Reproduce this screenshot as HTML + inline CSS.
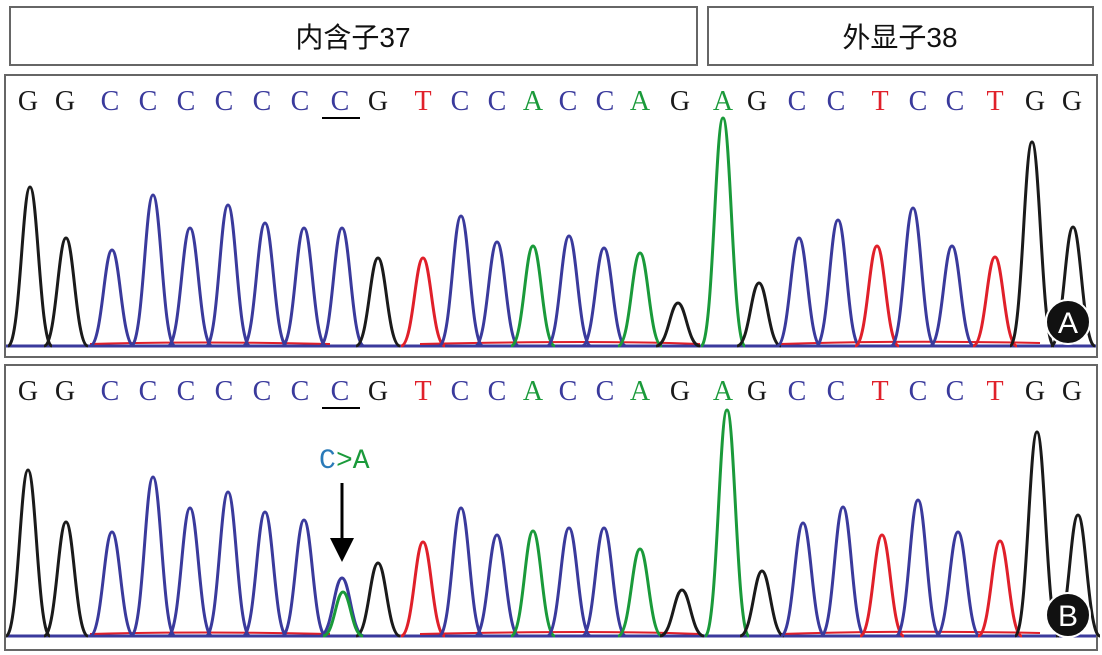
<!DOCTYPE html>
<html><head><meta charset="utf-8">
<style>
html,body{margin:0;padding:0;background:#fff;}
svg{display:block;}
</style></head>
<body>
<svg id="s" width="1102" height="655" viewBox="0 0 1102 655" xmlns="http://www.w3.org/2000/svg">
<rect x="0" y="0" width="1102" height="655" fill="#fff"/>
<rect x="10" y="7" width="687" height="58" fill="#fff" stroke="#666" stroke-width="2"/>
<rect x="708" y="7" width="385" height="58" fill="#fff" stroke="#666" stroke-width="2"/>
<text x="353" y="47" font-family="Liberation Sans, Noto Sans CJK SC, sans-serif" font-size="28" text-anchor="middle" fill="#111">内含子37</text>
<text x="900" y="47" font-family="Liberation Sans, Noto Sans CJK SC, sans-serif" font-size="28" text-anchor="middle" fill="#111">外显子38</text>
<rect x="5" y="75" width="1092" height="282" fill="#fff" stroke="#666" stroke-width="2"/>
<rect x="5" y="365" width="1092" height="285" fill="#fff" stroke="#666" stroke-width="2"/>
<g id="g"></g>
<line x1="322" y1="118" x2="360" y2="118" stroke="#000" stroke-width="2"/>
<line x1="322" y1="408" x2="360" y2="408" stroke="#000" stroke-width="2"/>
<text x="319" y="468" font-family="Liberation Mono, monospace" font-size="28" fill="#2a7ab8">C</text>
<text x="336" y="468" font-family="Liberation Mono, monospace" font-size="28" fill="#1a9a3a">&gt;A</text>
<line x1="342" y1="483" x2="342" y2="540" stroke="#000" stroke-width="3"/>
<polygon points="330,538 354,538 342,562" fill="#000"/>
<circle cx="1068" cy="322" r="22" fill="#111" stroke="#fff" stroke-width="2"/>
<text x="1068" y="333" font-family="Liberation Sans, sans-serif" font-size="30" text-anchor="middle" fill="#fff">A</text>
<circle cx="1068" cy="615" r="22" fill="#111" stroke="#fff" stroke-width="2"/>
<text x="1068" y="626" font-family="Liberation Sans, sans-serif" font-size="30" text-anchor="middle" fill="#fff">B</text>
</svg>
<script>
var col={G:"#1a1a1a",C:"#3a3a9c",T:"#e0202a",A:"#1a9a3a"};
var seq="GGCCCCCCCGTCCACCAGAGCCTCCTGG";
var lx=[28,65,110,148,186,224,262,300,340,378,423,460,497,533,568,605,640,680,723,757,797,836,880,918,955,995,1035,1072];
var pa=[[30,187],[66,238],[112,250],[153,195],[190,228],[228,205],[265,223],[304,228],[342,228],[378,258],[423,258],[461,216],[497,242],[533,246],[569,236],[604,248],[640,253],[678,303],[723,118],[759,283],[799,238],[838,220],[877,246],[913,208],[952,246],[995,257],[1032,142],[1073,227]];
var pb=[[28,470],[66,522],[112,532],[153,477],[190,508],[228,492],[265,512],[304,520],[342,578],[378,563],[423,542],[461,508],[497,535],[533,531],[569,528],[604,528],[640,549],[682,590],[727,410],[762,571],[803,523],[843,507],[882,535],[918,500],[958,532],[1000,541],[1037,432],[1078,515]];
var h="";
function peak(x,t,b,c,w){w=w||22;
return '<path d="M'+(x-w)+' '+b+' C'+(x-0.45*w)+' '+b+','+(x-0.35*w)+' '+t+','+x+' '+t+' C'+(x+0.35*w)+' '+t+','+(x+0.45*w)+' '+b+','+(x+w)+' '+b+'" fill="none" stroke="'+c+'" stroke-width="3"/>';}
function panel(pk,b,ly){
 h+='<line x1="6" y1="'+b+'" x2="1096" y2="'+b+'" stroke="#3a3a9c" stroke-width="3"/>';
 h+='<path d="M90 '+(b-2)+' Q200 '+(b-5)+' 330 '+(b-2)+' M420 '+(b-2)+' Q600 '+(b-6)+' 700 '+(b-2)+' M780 '+(b-2)+' Q900 '+(b-6)+' 1040 '+(b-3)+'" fill="none" stroke="#e0202a" stroke-width="2"/>';
 for(var i=0;i<pk.length;i++){h+=peak(pk[i][0],pk[i][1],b,col[seq[i]]);}
 for(var i=0;i<seq.length;i++){h+='<text x="'+lx[i]+'" y="'+ly+'" font-family="Liberation Serif, serif" font-size="28" text-anchor="middle" fill="'+col[seq[i]]+'">'+seq[i]+'</text>';}
}
panel(pa,346,110);
panel(pb,636,400);
h+=peak(343,592,636,"#1a9a3a",20);
document.getElementById("g").innerHTML=h;
</script>
</body></html>
